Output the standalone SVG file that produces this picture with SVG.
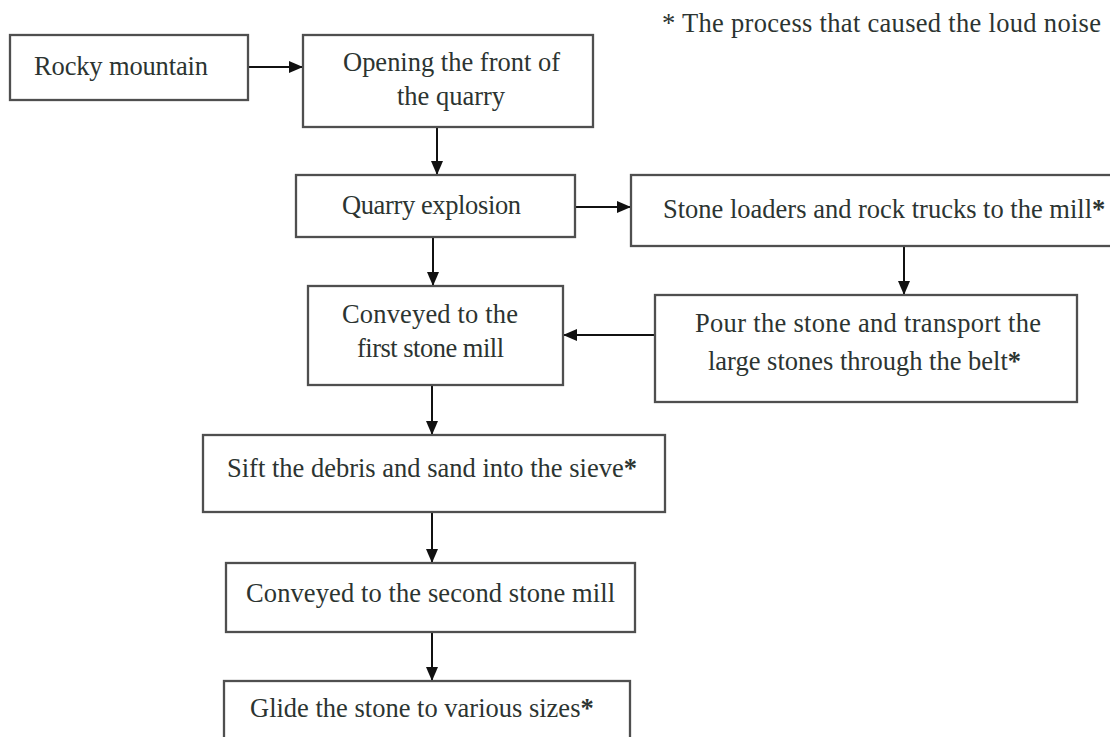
<svg xmlns="http://www.w3.org/2000/svg" width="1110" height="737" viewBox="0 0 1110 737">
<style>
.box{fill:#fff;stroke:#4f4f4f;stroke-width:2.3}
.t{font-family:"Liberation Serif","Times New Roman",serif;font-size:26.5px;fill:#2c3431}
.c{stroke:#111;stroke-width:2;fill:none}
.b{font-weight:bold}
</style>
<defs>
<marker id="ah" markerUnits="userSpaceOnUse" markerWidth="14" markerHeight="12" refX="14" refY="6" orient="auto">
<path d="M0,0 L14,6 L0,12 Z" fill="#111"/>
</marker>
</defs>
<rect width="1110" height="737" fill="#fff"/>
<text class="t" x="662" y="32" textLength="439">* The process that caused the loud noise</text>
<g id="connectors">
<line class="c" x1="248" y1="67" x2="303" y2="67" marker-end="url(#ah)"/>
<line class="c" x1="437" y1="127" x2="437" y2="175" marker-end="url(#ah)"/>
<line class="c" x1="575" y1="207" x2="631" y2="207" marker-end="url(#ah)"/>
<line class="c" x1="433" y1="237" x2="433" y2="286" marker-end="url(#ah)"/>
<line class="c" x1="904" y1="246" x2="904" y2="295" marker-end="url(#ah)"/>
<line class="c" x1="655" y1="335" x2="563" y2="335" marker-end="url(#ah)"/>
<line class="c" x1="432" y1="385" x2="432" y2="435" marker-end="url(#ah)"/>
<line class="c" x1="432" y1="512" x2="432" y2="563" marker-end="url(#ah)"/>
<line class="c" x1="432" y1="632" x2="432" y2="681" marker-end="url(#ah)"/>
</g>
<g id="rocky">
<rect class="box" x="10" y="35" width="238" height="65"/>
<text class="t" x="34" y="75" textLength="174">Rocky mountain</text>
</g>
<g id="opening">
<rect class="box" x="303" y="35" width="290" height="92"/>
<text class="t" x="343" y="71" textLength="217">Opening the front of</text>
<text class="t" x="397" y="105" textLength="108">the quarry</text>
</g>
<g id="explosion">
<rect class="box" x="296" y="175" width="279" height="62"/>
<text class="t" x="342" y="214" textLength="179">Quarry explosion</text>
</g>
<g id="loaders">
<rect class="box" x="631" y="175" width="490" height="71"/>
<text class="t" x="663" y="218">Stone loaders and rock trucks to the mill<tspan class="b">*</tspan></text>
</g>
<g id="pour">
<rect class="box" x="655" y="295" width="422" height="107"/>
<text class="t" x="695" y="332" textLength="346">Pour the stone and transport the</text>
<text class="t" x="708" y="370">large stones through the belt<tspan class="b">*</tspan></text>
</g>
<g id="mill1">
<rect class="box" x="308" y="286" width="255" height="99"/>
<text class="t" x="342" y="323" textLength="176">Conveyed to the</text>
<text class="t" x="357" y="357" textLength="147">first stone mill</text>
</g>
<g id="sift">
<rect class="box" x="203" y="435" width="462" height="77"/>
<text class="t" x="227" y="477">Sift the debris and sand into the sieve<tspan class="b">*</tspan></text>
</g>
<g id="mill2">
<rect class="box" x="226" y="563" width="409" height="69"/>
<text class="t" x="246" y="602" textLength="369">Conveyed to the second stone mill</text>
</g>
<g id="glide">
<rect class="box" x="224" y="681" width="406" height="70"/>
<text class="t" x="250" y="717">Glide the stone to various sizes<tspan class="b">*</tspan></text>
</g>
</svg>
